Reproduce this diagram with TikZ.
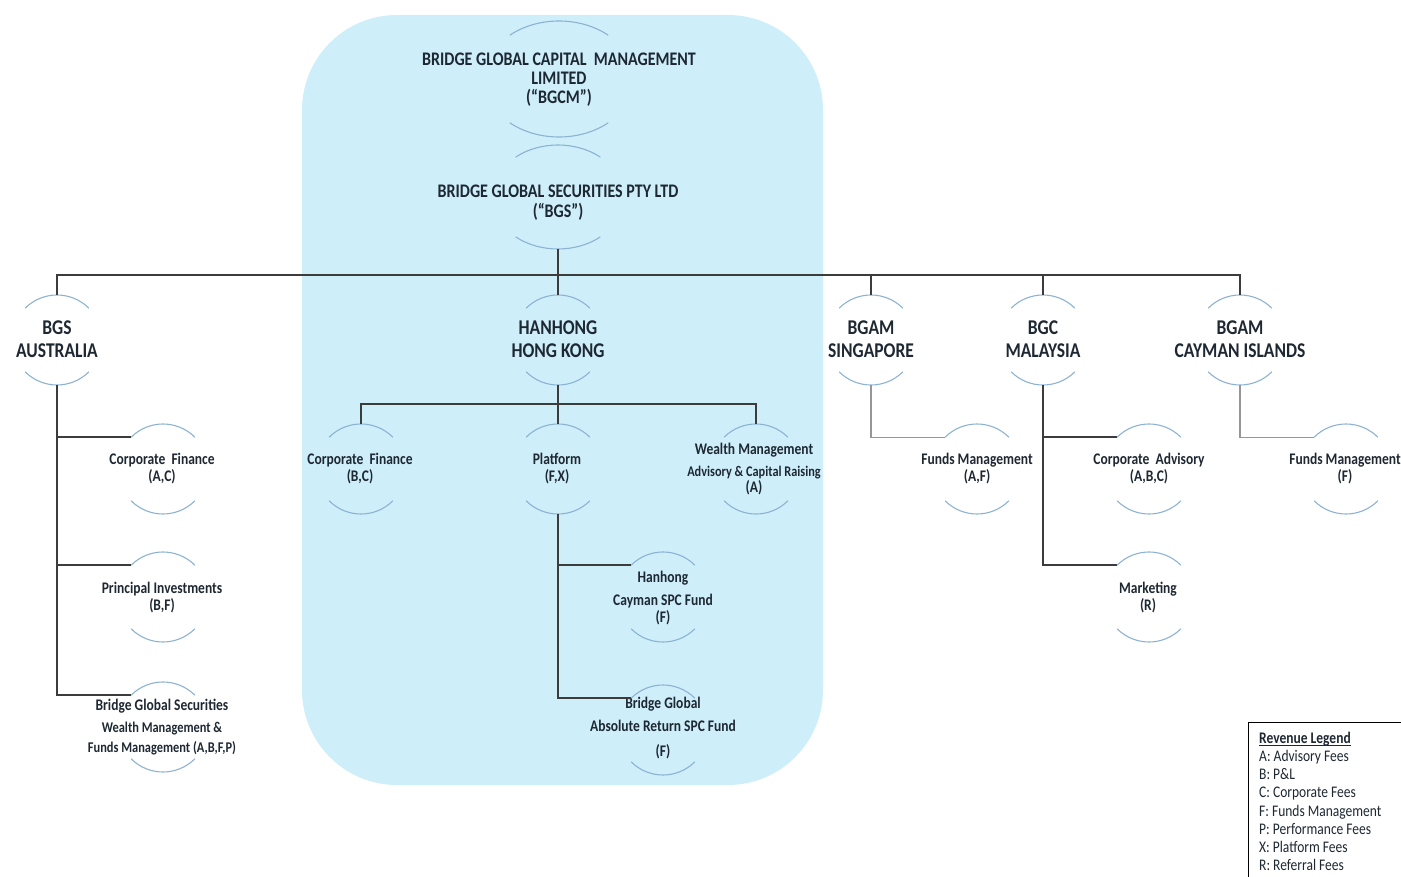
\documentclass[tikz,border=0pt]{standalone}
\usepackage{fontspec}
\setmainfont{Carlito}
\definecolor{bgc}{RGB}{206,238,250}
\definecolor{arcc}{RGB}{140,178,212}
\definecolor{txtc}{RGB}{30,40,50}
\definecolor{linec}{RGB}{60,60,60}
\definecolor{linel}{RGB}{150,150,150}
\newcommand\myul[1]{\setbox0\hbox{#1}\rlap{\rule[-2pt]{\wd0}{0.7pt}}\box0}
% name, cx, cy, rx, ry, half-angle
\newcommand\bub[6]{%
  \coordinate (#1) at (#2,#3);
  \draw[arcst] (#1) ++({-#4*cos(#6)},{-#5*sin(#6)}) arc[start angle={180-#6}, end angle=#6, x radius=#4pt, y radius=#5pt];
  \draw[arcst] (#1) ++({-#4*cos(#6)},{#5*sin(#6)}) arc[start angle={180+#6}, end angle={360-#6}, x radius=#4pt, y radius=#5pt];
  \coordinate (#1-t) at ([yshift=#5pt]#1);
  \coordinate (#1-b) at ([yshift=-#5pt]#1);
  \path (#1) ++({-#4*cos(#6)},{-#5*sin(#6)}) coordinate (#1-l);
}
\tikzset{
  arcst/.style={arcc, line width=1.1pt},
  conn/.style={linec, line width=1.4pt},
  connl/.style={linel, line width=1.2pt},
  lbl/.style={text=txtc, align=center, inner sep=0pt, yscale=1.2, font=\bfseries\fontsize{13.5}{14.2}\selectfont},
  biglbl/.style={lbl, font=\bfseries\fontsize{17.5}{19.2}\selectfont},
  titlelbl/.style={lbl, font=\bfseries\fontsize{16}{16.1}\selectfont},
  leglbl/.style={text=txtc, align=left, inner sep=0pt, yscale=1.2, font=\fontsize{13.5}{15.2}\selectfont},
}
\begin{document}
\begin{tikzpicture}[x=1pt,y=-1pt]
\useasboundingbox (0,0) rectangle (1401,877);
\fill[bgc, rounded corners=95pt] (302,15) rectangle (823,785);

% circles (arcs)
\bub{bgcm}{559}{79}{75}{58}{49}
\bub{bgs}{558}{197}{66}{52}{50}
\bub{aus}{57}{340}{45}{45}{45}
\bub{hk}{558}{340}{45}{45}{45}
\bub{sg}{871}{340}{45}{45}{45}
\bub{mal}{1043}{340}{45}{45}{45}
\bub{cay}{1240}{340}{45}{45}{45}
\bub{ausCF}{163}{469}{45}{45}{45}
\bub{ausPI}{163}{597}{45}{45}{45}
\bub{ausBGS}{163}{727}{45}{45}{45}
\bub{hkCF}{361}{469}{45}{45}{45}
\bub{hkPl}{558}{469}{45}{45}{45}
\bub{hkWM}{756}{469}{45}{45}{45}
\bub{hkCay}{663}{597}{45}{45}{45}
\bub{hkBG}{663}{730}{45}{45}{45}
\bub{sgFM}{977}{469}{45}{45}{45}
\bub{malCA}{1149}{469}{45}{45}{45}
\bub{malMk}{1149}{597}{45}{45}{45}
\bub{cayFM}{1346}{469}{45}{45}{45}

% texts
\node[titlelbl] (bgcm-n) at (559,79.5) {BRIDGE GLOBAL CAPITAL\ \ MANAGEMENT\\LIMITED\\(“BGCM”)};
\node[titlelbl, font=\bfseries\fontsize{16}{16.7}\selectfont] (bgs-n) at (558,203) {BRIDGE GLOBAL SECURITIES PTY LTD\\(“BGS”)};
\node[biglbl] (aus-n) at (57,339.5) {BGS\\AUSTRALIA};
\node[biglbl] (hk-n) at (558,339.5) {HANHONG\\HONG KONG};
\node[biglbl] (sg-n) at (871,339.5) {BGAM\\SINGAPORE};
\node[biglbl] (mal-n) at (1043,339.5) {BGC\\MALAYSIA};
\node[biglbl] (cay-n) at (1240,339.5) {BGAM\\CAYMAN ISLANDS};

\node[lbl] (ausCF-n) at (162,469) {Corporate\ \ Finance\\(A,C)};
\node[lbl] (ausPI-n) at (162,598) {Principal Investments\\(B,F)};
\node[lbl] (ausBGS-n) at (162,727) {Bridge Global Securities\\[4pt]{\fontsize{12.4}{14.2}\selectfont Wealth Management \&}\\[2.5pt]{\fontsize{12.4}{14.2}\selectfont Funds Management (A,B,F,P)}};
\node[lbl] (hkCF-n) at (360,469) {Corporate\ \ Finance\\(B,C)};
\node[lbl] (hkPl-n) at (557,469) {Platform\\(F,X)};
\node[lbl] (hkWM-n) at (754,469) {Wealth Management\\[4pt]{\fontsize{12.3}{14.2}\selectfont Advisory \& Capital Raising}\\[-1pt](A)};
\node[lbl] (hkCay-n) at (663,598) {Hanhong\\[5pt]Cayman SPC Fund\\(F)};
\node[lbl] (hkBG-n) at (663,728) {Bridge Global\\[5pt]Absolute Return SPC Fund\\[6.6pt](F)};
\node[lbl] (sgFM-n) at (977,469) {Funds Management\\(A,F)};
\node[lbl] (malCA-n) at (1149,469) {Corporate\ \ Advisory\\(A,B,C)};
\node[lbl] (malMk-n) at (1148,598) {Marketing\\(R)};
\node[lbl] (cayFM-n) at (1345,469) {Funds Management\\(F)};

% connectors
\coordinate (bar) at (558,275);
\coordinate (hkbar) at (558,404);
\draw[conn] (bgs-b) -- (bar);
\draw[conn] (aus-t) |- (bar) -| (cay-t);
\draw[conn] (hk-t) -- (bar);
\draw[conn] (sg-t) -- (sg-t |- bar);
\draw[conn] (mal-t) -- (mal-t |- bar);

\draw[conn] (aus-b) |- (ausBGS-l);
\draw[conn] (aus-b) |- (ausCF-l);
\draw[conn] (aus-b) |- (ausPI-l);

\draw[conn] (hk-b) -- (hkPl-t);
\draw[conn] (hkCF-t) |- (hkbar) -| (hkWM-t);
\draw[conn] (hkPl-b) |- (hkBG-l);
\draw[conn] (hkPl-b) |- (hkCay-l);

\draw[connl] (sg-b) |- (sgFM-l);
\draw[conn] (mal-b) |- (malMk-l);
\draw[conn] (mal-b) |- (malCA-l);
\draw[connl] (cay-b) |- (cayFM-l);

% legend
\draw[black, line width=1pt] (1402,722) -- (1248,722) -- (1248,878);
\node[leglbl, anchor=north west] (leg) at (1259,731.5) {\myul{\textbf{Revenue Legend}}\\A: Advisory Fees\\B: P\&L\\C: Corporate Fees\\F: Funds Management\\P: Performance Fees\\X: Platform Fees\\R: Referral Fees};
\end{tikzpicture}
\end{document}
